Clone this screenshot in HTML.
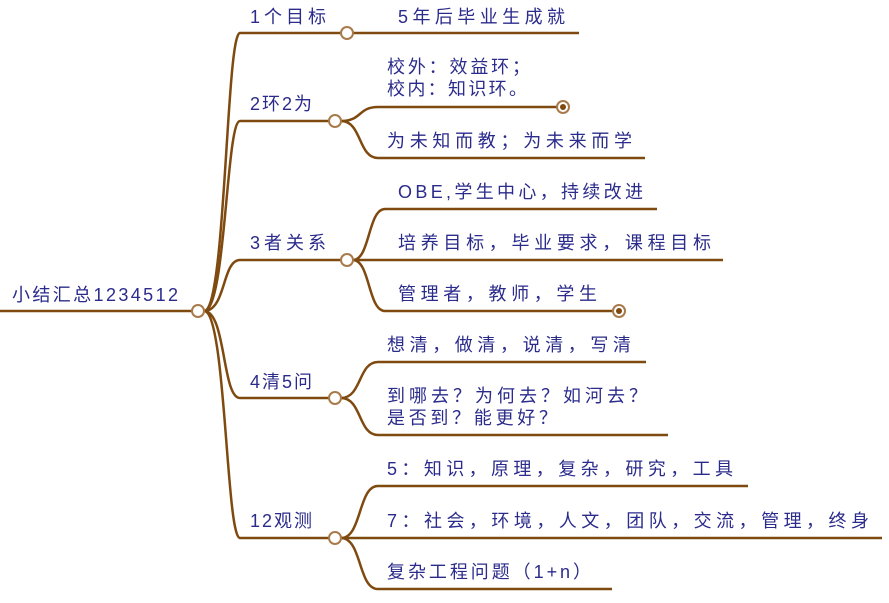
<!DOCTYPE html>
<html><head><meta charset="utf-8"><style>
html,body{margin:0;padding:0;background:#fff;width:889px;height:603px;overflow:hidden}
text{font-family:"Liberation Sans","Noto Sans CJK SC","WenQuanYi Zen Hei",sans-serif;font-size:18px;fill:#2b2b8c}
</style></head><body>
<svg width="889" height="603" viewBox="0 0 889 603" xmlns="http://www.w3.org/2000/svg">
<g fill="none" stroke="#7f4a10" stroke-width="2.5">
<line x1="0" y1="311" x2="192" y2="311"/>
<path d="M204,311 C226,311 226,33 240,33 L341,33"/>
<path d="M204,311 C226,311 226,121 240,121 L329,121"/>
<path d="M204,311 C226,311 222,260 240,260 L341,260"/>
<path d="M204,311 C226,311 222,398 240,398 L329,398"/>
<path d="M204,311 C226,311 226,538 240,538 L329,538"/>
<line x1="353" y1="33" x2="579" y2="33"/>
<path d="M341,121 C362,121 358,107 378,107 L557,107"/>
<path d="M341,121 C362,121 358,158 378,158 L645,158"/>
<path d="M353,260 C370,260 368,209 385,209 L657,209"/>
<path d="M353,260 L723,260"/>
<path d="M353,260 C370,260 368,311 385,311 L613,311"/>
<path d="M341,398 C362,398 358,362 378,362 L646,362"/>
<path d="M341,398 C362,398 358,435 378,435 L668,435"/>
<path d="M341,538 C362,538 358,486 378,486 L748,486"/>
<path d="M341,538 L882,538"/>
<path d="M341,538 C362,538 358,589 378,589 L612,589"/>
</g>
<g fill="#fff" stroke="#a87a4a" stroke-width="2">
<circle cx="198" cy="311" r="6"/>
<circle cx="347" cy="33" r="6"/>
<circle cx="335" cy="121" r="6"/>
<circle cx="347" cy="260" r="6"/>
<circle cx="335" cy="398" r="6"/>
<circle cx="335" cy="538" r="6"/>
<circle cx="563" cy="107" r="6"/>
<circle cx="619" cy="311" r="6"/>
</g>
<circle cx="563" cy="107" r="3" fill="#7f4a10"/>
<circle cx="619" cy="311" r="3" fill="#7f4a10"/>
<g lengthAdjust="spacing">
<text x="12" y="301" textLength="166" lengthAdjust="spacing">小结汇总1234512</text>
<text x="250" y="23" textLength="76" lengthAdjust="spacing">1个目标</text>
<text x="250" y="110" textLength="62" lengthAdjust="spacing">2环2为</text>
<text x="250" y="249" textLength="76" lengthAdjust="spacing">3者关系</text>
<text x="250" y="388" textLength="62" lengthAdjust="spacing">4清5问</text>
<text x="250" y="527" textLength="62" lengthAdjust="spacing">12观测</text>
<text x="398" y="23" textLength="167" lengthAdjust="spacing">5年后毕业生成就</text>
<text x="387" y="73" textLength="143" lengthAdjust="spacing">校外：效益环；</text>
<text x="387" y="95" textLength="140" lengthAdjust="spacing">校内：知识环。</text>
<text x="387" y="147" textLength="245" lengthAdjust="spacing">为未知而教；为未来而学</text>
<text x="398" y="198" textLength="245" lengthAdjust="spacing">OBE,学生中心，持续改进</text>
<text x="398" y="249" textLength="313" lengthAdjust="spacing">培养目标，毕业要求，课程目标</text>
<text x="398" y="300" textLength="199" lengthAdjust="spacing">管理者，教师，学生</text>
<text x="387" y="351" textLength="244" lengthAdjust="spacing">想清，做清，说清，写清</text>
<text x="387" y="402" textLength="260" lengthAdjust="spacing">到哪去？为何去？如河去？</text>
<text x="387" y="424" textLength="170" lengthAdjust="spacing">是否到？能更好？</text>
<text x="387" y="475" textLength="346" lengthAdjust="spacing">5：知识，原理，复杂，研究，工具</text>
<text x="387" y="527" textLength="482" lengthAdjust="spacing">7：社会，环境，人文，团队，交流，管理，终身</text>
<text x="387" y="578" textLength="204" lengthAdjust="spacing">复杂工程问题（1+n）</text>
</g>
</svg>
</body></html>
